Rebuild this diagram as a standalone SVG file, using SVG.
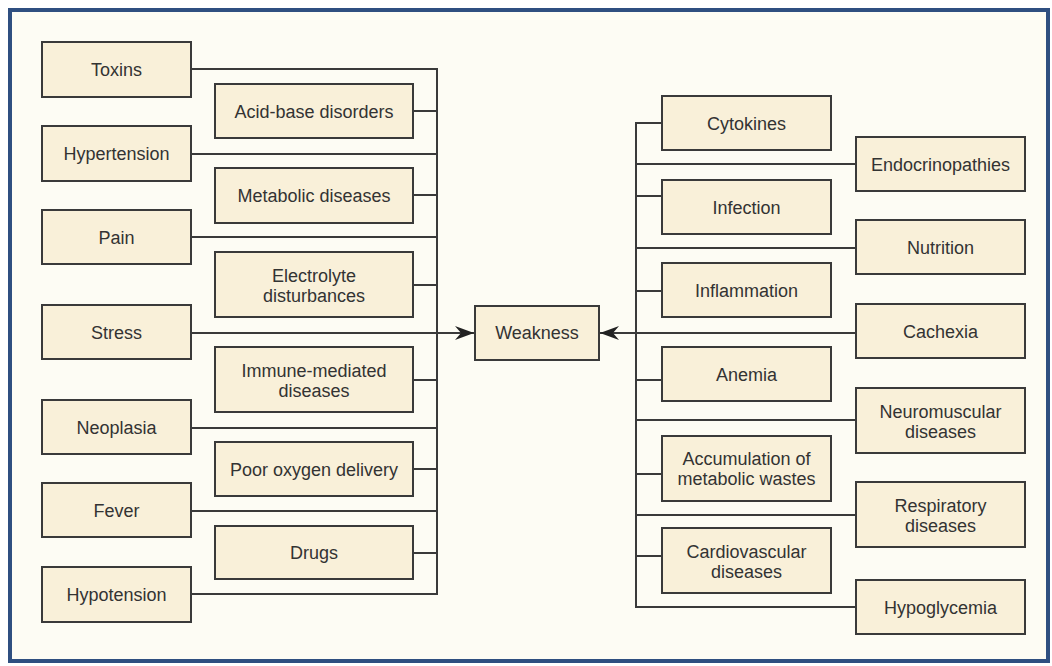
<svg xmlns="http://www.w3.org/2000/svg" width="1052" height="666" viewBox="0 0 1052 666">
  <style>
    .box { fill: #f9f0d9; stroke: #3a3a3a; stroke-width: 2; }
    .lbl { font-family: "Liberation Sans", Arial, sans-serif; font-size: 18px; fill: #333; text-anchor: middle; }
    .wire { fill: none; stroke: #3a3a3a; stroke-width: 2; }
  </style>
  <defs>
    <marker id="head" markerUnits="userSpaceOnUse" markerWidth="20" markerHeight="14" refX="19" refY="7" orient="auto">
      <path d="M0,0 L19,7 L0,14 L6,7 Z" fill="#222"/>
    </marker>
  </defs>

  <!-- frame -->
  <rect x="10" y="10" width="1038" height="651" fill="#fdfcf4" stroke="#2f4f80" stroke-width="4"/>

  <!-- connectors -->
  <g id="connectors" class="wire">
    <!-- left bus -->
    <path d="M191,69 H437 V594 H191"/>
    <path d="M413,111 H437"/>
    <path d="M191,154 H437"/>
    <path d="M413,195 H437"/>
    <path d="M191,237 H437"/>
    <path d="M413,285 H437"/>
    <path d="M413,380 H437"/>
    <path d="M191,428 H437"/>
    <path d="M413,469 H437"/>
    <path d="M191,511 H437"/>
    <path d="M413,553 H437"/>
    <path d="M191,333 H474" marker-end="url(#head)"/>
    <!-- right bus -->
    <path d="M662,123 H636 V607 H856"/>
    <path d="M636,164 H856"/>
    <path d="M636,196 H662"/>
    <path d="M636,248 H856"/>
    <path d="M636,291 H662"/>
    <path d="M636,380 H662"/>
    <path d="M636,420 H856"/>
    <path d="M636,474 H662"/>
    <path d="M636,515 H856"/>
    <path d="M636,556 H662"/>
    <path d="M856,333 H636"/>
    <path d="M636,333 H600" marker-end="url(#head)"/>
  </g>

  <!-- central node -->
  <g id="weakness">
    <rect class="box" x="475" y="306" width="124" height="54"/>
    <text class="lbl" x="537" y="339">Weakness</text>
  </g>

  <!-- left outer column -->
  <g id="toxins"><rect class="box" x="42" y="42" width="149" height="55"/><text class="lbl" x="116.5" y="76">Toxins</text></g>
  <g id="hypertension"><rect class="box" x="42" y="126" width="149" height="55"/><text class="lbl" x="116.5" y="160">Hypertension</text></g>
  <g id="pain"><rect class="box" x="42" y="210" width="149" height="54"/><text class="lbl" x="116.5" y="243.5">Pain</text></g>
  <g id="stress"><rect class="box" x="42" y="305" width="149" height="54"/><text class="lbl" x="116.5" y="338.5">Stress</text></g>
  <g id="neoplasia"><rect class="box" x="42" y="400" width="149" height="54"/><text class="lbl" x="116.5" y="433.5">Neoplasia</text></g>
  <g id="fever"><rect class="box" x="42" y="483" width="149" height="54"/><text class="lbl" x="116.5" y="516.5">Fever</text></g>
  <g id="hypotension"><rect class="box" x="42" y="567" width="149" height="55"/><text class="lbl" x="116.5" y="601">Hypotension</text></g>

  <!-- left inner column -->
  <g id="acid-base"><rect class="box" x="215" y="84" width="198" height="54"/><text class="lbl" x="314" y="117.5">Acid-base disorders</text></g>
  <g id="metabolic"><rect class="box" x="215" y="168" width="198" height="55"/><text class="lbl" x="314" y="202">Metabolic diseases</text></g>
  <g id="electrolyte"><rect class="box" x="215" y="252" width="198" height="65"/><text class="lbl" x="314" y="282">Electrolyte</text><text class="lbl" x="314" y="302">disturbances</text></g>
  <g id="immune"><rect class="box" x="215" y="347" width="198" height="65"/><text class="lbl" x="314" y="377">Immune-mediated</text><text class="lbl" x="314" y="397">diseases</text></g>
  <g id="oxygen"><rect class="box" x="215" y="442" width="198" height="54"/><text class="lbl" x="314" y="475.5">Poor oxygen delivery</text></g>
  <g id="drugs"><rect class="box" x="215" y="526" width="198" height="53"/><text class="lbl" x="314" y="559">Drugs</text></g>

  <!-- right inner column -->
  <g id="cytokines"><rect class="box" x="662" y="96" width="169" height="54"/><text class="lbl" x="746.5" y="129.5">Cytokines</text></g>
  <g id="infection"><rect class="box" x="662" y="180" width="169" height="54"/><text class="lbl" x="746.5" y="213.5">Infection</text></g>
  <g id="inflammation"><rect class="box" x="662" y="263" width="169" height="54"/><text class="lbl" x="746.5" y="296.5">Inflammation</text></g>
  <g id="anemia"><rect class="box" x="662" y="347" width="169" height="54"/><text class="lbl" x="746.5" y="380.5">Anemia</text></g>
  <g id="wastes"><rect class="box" x="662" y="436" width="169" height="65"/><text class="lbl" x="746.5" y="465">Accumulation of</text><text class="lbl" x="746.5" y="485">metabolic wastes</text></g>
  <g id="cardiovascular"><rect class="box" x="662" y="528" width="169" height="65"/><text class="lbl" x="746.5" y="558">Cardiovascular</text><text class="lbl" x="746.5" y="578">diseases</text></g>

  <!-- right outer column -->
  <g id="endocrinopathies"><rect class="box" x="856" y="137" width="169" height="54"/><text class="lbl" x="940.5" y="170.5">Endocrinopathies</text></g>
  <g id="nutrition"><rect class="box" x="856" y="220" width="169" height="54"/><text class="lbl" x="940.5" y="253.5">Nutrition</text></g>
  <g id="cachexia"><rect class="box" x="856" y="304" width="169" height="54"/><text class="lbl" x="940.5" y="337.5">Cachexia</text></g>
  <g id="neuromuscular"><rect class="box" x="856" y="388" width="169" height="65"/><text class="lbl" x="940.5" y="418">Neuromuscular</text><text class="lbl" x="940.5" y="438">diseases</text></g>
  <g id="respiratory"><rect class="box" x="856" y="482" width="169" height="65"/><text class="lbl" x="940.5" y="512">Respiratory</text><text class="lbl" x="940.5" y="532">diseases</text></g>
  <g id="hypoglycemia"><rect class="box" x="856" y="580" width="169" height="54"/><text class="lbl" x="940.5" y="613.5">Hypoglycemia</text></g>
</svg>
